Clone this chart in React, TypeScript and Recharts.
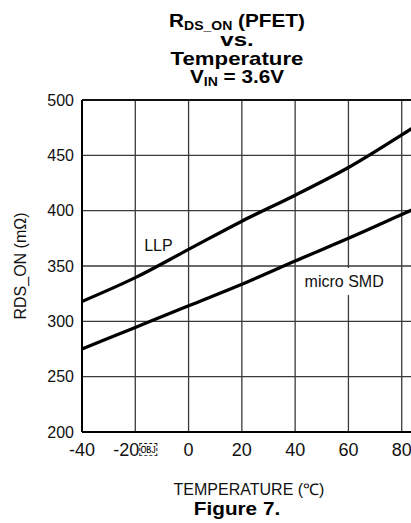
import React from 'react';
import {
  CartesianGrid,
  Line,
  LineChart,
  ReferenceDot,
  ReferenceLine,
  XAxis,
  YAxis,
} from 'recharts';

// values (RDS_ON in mOhm)
const temperatures = [-40, -20, 0, 20, 40, 60, 80, 100];
const llp = [318, 339.5, 365, 390.5, 414, 439, 468.5, 500];
const microSmd = [275, 294.5, 314, 333.5, 354.5, 375, 396.5, 418];

const xTicks = [-40, -20, 0, 20, 40, 60, 80];
const xTickLabels = ['-40', '-20\uFFFC', '0', '20', '40', '60', '80'];
const yTicks = [200, 250, 300, 350, 400, 450, 500];

const data = temperatures.map((t, i) => ({ temp: t, llp: llp[i], micro: microSmd[i] }));

const FONT = '"Liberation Sans", Arial, Helvetica, sans-serif';

function TitleLine({ top, scale, size = 18.5, children }: { top: number; scale: number; size?: number; children: React.ReactNode }) {
  return (
    <div
      style={{
        position: 'absolute',
        left: 0,
        width: 474,
        top: top + 1.25,
        textAlign: 'center',
        fontWeight: 'bold',
        fontSize: size,
        lineHeight: `${size - 2.5}px`,
        whiteSpace: 'nowrap',
        transform: `scaleX(${scale})`,
        color: '#000',
      }}
    >
      {children}
    </div>
  );
}

const sub = (text: string) => (
  <span style={{ fontSize: 12.5, position: 'relative', top: 3 }}>{text}</span>
);

export default function App() {
  return (
    <div
      style={{
        position: 'absolute',
        left: 0,
        top: 0,
        width: 411,
        height: 523,
        overflow: 'hidden',
        background: '#fff',
        fontFamily: FONT,
      }}
    >
      <TitleLine top={11.6} scale={1.12}>
        R{sub('DS_ON')} (PFET)
      </TitleLine>
      <TitleLine top={31} scale={1.3}>vs.</TitleLine>
      <TitleLine top={49.3} scale={1.2}>Temperature</TitleLine>
      <TitleLine top={67.6} scale={1.12}>
        V{sub('IN')} = 3.6V
      </TitleLine>

      <LineChart
        width={480}
        height={523}
        data={data}
        margin={{ top: 100, right: 25, bottom: 61, left: 15 }}
      >
        <CartesianGrid stroke="#3a3a3a" strokeWidth={1.3} />
        <XAxis
          dataKey="temp"
          type="number"
          domain={[-40, 100]}
          ticks={xTicks}
          tickFormatter={(v: number) => xTickLabels[xTicks.indexOf(v)]}
          tickLine={false}
          tickSize={6}
          tickMargin={5}
          height={30}
          axisLine={{ stroke: '#000', strokeWidth: 2 }}
          tick={{ fontSize: 18, fill: '#111' }}
        />
        <YAxis
          type="number"
          domain={[200, 500]}
          ticks={yTicks}
          tickLine={false}
          width={67}
          axisLine={{ stroke: '#000', strokeWidth: 2 }}
          tick={{ fontSize: 16, fill: '#111' }}
          label={{
            value: 'RDS_ON (m\u03A9)',
            angle: -90,
            position: 'insideLeft',
            offset: 5,
            style: { textAnchor: 'middle', fontSize: 16, fill: '#111' },
          }}
        />
        <ReferenceLine y={500} stroke="#111" strokeWidth={2} />
        <Line
          type="monotone"
          dataKey="llp"
          stroke="#000"
          strokeWidth={3.3}
          dot={false}
          isAnimationActive={false}
        />
        <Line
          type="monotone"
          dataKey="micro"
          stroke="#000"
          strokeWidth={3.3}
          dot={false}
          isAnimationActive={false}
        />
        <ReferenceDot
          x={-11.3}
          y={369}
          r={0}
          shape={(p: any) => (
            <text x={p.cx} y={p.cy} dy="0.355em" textAnchor="middle" fontSize={16} fill="#111">
              LLP
            </text>
          )}
        />
        <ReferenceDot
          x={58.4}
          y={336.4}
          r={0}
          shape={(p: any) => (
            <g>
              <rect x={p.cx - 44} y={p.cy - 13} width={88} height={27} fill="#fff" />
              <text x={p.cx} y={p.cy} dy="0.355em" textAnchor="middle" fontSize={16} fill="#111">
                micro SMD
              </text>
            </g>
          )}
        />
      </LineChart>

      <div
        style={{
          position: 'absolute',
          left: 0,
          width: 498,
          top: 481.5,
          textAlign: 'center',
          fontSize: 16,
          lineHeight: '16px',
          color: '#111',
          whiteSpace: 'nowrap',
        }}
      >
        TEMPERATURE (℃)
      </div>
      <TitleLine top={500} scale={1.12}>Figure 7.</TitleLine>
    </div>
  );
}
